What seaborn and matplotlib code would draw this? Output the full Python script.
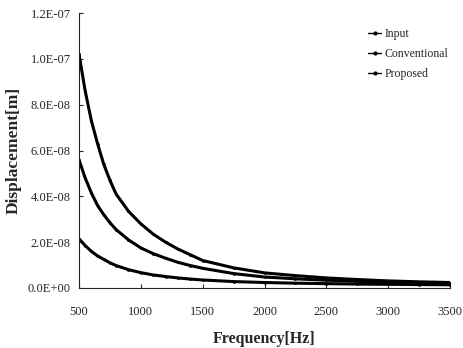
import matplotlib
matplotlib.use("Agg")
from matplotlib import pyplot as plt
from matplotlib.ticker import FuncFormatter
import numpy as np
import pandas as pd
import seaborn as sns

# frequencies [Hz] and read-off displacements (x1e-8 m)
freq = [500, 550, 600, 650, 700, 750, 800, 900, 1000, 1100, 1200, 1300, 1400,
        1500, 1750, 2000, 2250, 2500, 2750, 3000, 3250, 3500]
input_disp = [10.2, 8.6, 7.3, 6.3, 5.4, 4.7, 4.1, 3.35, 2.8, 2.35, 2.0, 1.7, 1.45,
              1.2, 0.88, 0.66, 0.54, 0.44, 0.37, 0.31, 0.27, 0.24]
conventional_disp = [5.6, 4.8, 4.15, 3.6, 3.2, 2.85, 2.55, 2.1, 1.75, 1.5, 1.3, 1.12, 0.98,
                     0.86, 0.63, 0.48, 0.40, 0.34, 0.29, 0.26, 0.23, 0.21]
proposed_disp = [2.15, 1.85, 1.6, 1.4, 1.25, 1.1, 0.98, 0.8, 0.67, 0.57, 0.5, 0.44, 0.39,
                 0.35, 0.28, 0.24, 0.21, 0.19, 0.17, 0.16, 0.15, 0.14]
series_names = ["Input", "Conventional", "Proposed"]

sns.set_style("ticks")
plt.rcParams["font.family"] = ["Liberation Serif", "DejaVu Serif"]

df = pd.DataFrame({
    "freq": freq * 3,
    "disp": np.array(input_disp + conventional_disp + proposed_disp) * 1e-8,
    "series": np.repeat(series_names, len(freq)),
})

fig = plt.figure(figsize=(4.63, 3.48), dpi=100)
ax = fig.add_axes([79 / 463, 1 - 288 / 348, 371 / 463, 275 / 348])

sns.lineplot(data=df, x="freq", y="disp", hue="series", hue_order=series_names,
             palette=["black"] * 3, linewidth=2.2, marker="o", markersize=2,
             markeredgewidth=0, ax=ax)

ax.set_xlim(500, 3500)
ax.set_ylim(0, 1.2e-7)
ax.set_xticks([500, 1000, 1500, 2000, 2500, 3000, 3500])
ax.set_yticks(np.arange(0, 1.21e-7, 2e-8))
ax.yaxis.set_major_formatter(FuncFormatter(lambda v, p: f"{v:.1E}"))
ax.tick_params(axis="x", direction="in", length=3, pad=13, labelsize=9)
ax.tick_params(axis="y", direction="in", length=3, pad=6, labelsize=9)
sns.despine(ax=ax)
for s in ["left", "bottom"]:
    ax.spines[s].set_linewidth(0.8)

ax.set_xlabel("Frequency[Hz]", fontsize=11.5, fontweight="bold", labelpad=9)
ax.set_ylabel("Displacement[m]", fontsize=12.5, fontweight="bold", labelpad=4)

leg = ax.legend(loc="upper left", bbox_to_anchor=(0.78, 0.945), frameon=False,
                borderaxespad=0, borderpad=0,
                fontsize=8.5, handlelength=1.1, handletextpad=0.3, labelspacing=0.68)
for h in leg.get_lines():
    h.set_linewidth(1.0)
    h.set_markersize(3)

fig.savefig("out.png", dpi=100)
